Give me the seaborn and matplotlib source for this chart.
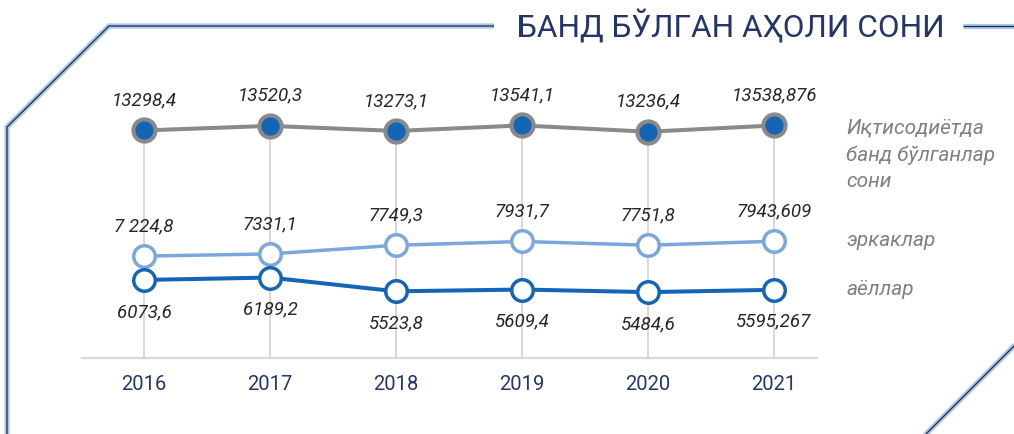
import matplotlib
matplotlib.use("Agg")
import matplotlib.pyplot as plt
from matplotlib.lines import Line2D
import seaborn as sns
import pandas as pd

# ---- data ----
years = [2016, 2017, 2018, 2019, 2020, 2021]
employed = [13298.4, 13520.3, 13273.1, 13541.1, 13236.4, 13538.876]
men = [7224.8, 7331.1, 7749.3, 7931.7, 7751.8, 7943.609]
women = [6073.6, 6189.2, 5523.8, 5609.4, 5484.6, 5595.267]
employed_labels = ["13298,4", "13520,3", "13273,1", "13541,1", "13236,4", "13538,876"]
men_labels = ["7 224,8", "7331,1", "7749,3", "7931,7", "7751,8", "7943,609"]
women_labels = ["6073,6", "6189,2", "5523,8", "5609,4", "5484,6", "5595,267"]
series_names = ["Иқтисодиётда\nбанд бўлганлар\nсони", "эркаклар", "аёллар"]
title = "БАНД БЎЛГАН АҲОЛИ СОНИ"

sns.set_theme(style="white")
plt.rcParams["font.family"] = ["Roboto", "DejaVu Sans"]

W, H = 1014, 435
fig = plt.figure(figsize=(W / 100, H / 100), dpi=100)

def fx(px):
    return px / W

def fy(py):
    return (H - py) / H

ax_left, ax_right, ax_top, ax_bottom = 82, 817, 60, 359.3
ax = fig.add_axes([fx(ax_left), fy(ax_bottom), fx(ax_right - ax_left), (ax_bottom - ax_top) / H])

GRAY = "#8a8a8a"
DARK = "#1565b7"
LIGHT = "#7ba7db"
GRID = "#d3d0cc"

df = pd.DataFrame({"year": years, "employed": employed, "men": men, "women": women})

# drop lines from top series to baseline
ymin, ymax = 2286, 16752
ax.vlines(df["year"], ymin, df["employed"], color=GRID, lw=1.2, zorder=1)

sns.lineplot(data=df, x="year", y="employed", ax=ax, color=GRAY, lw=2.9,
             marker="o", markersize=16, markerfacecolor=DARK,
             markeredgecolor=GRAY, markeredgewidth=2.9, zorder=3)
sns.lineplot(data=df, x="year", y="men", ax=ax, color=LIGHT, lw=2.5,
             marker="o", markersize=15.5, markerfacecolor="white",
             markeredgecolor=LIGHT, markeredgewidth=2.5, zorder=3)
sns.lineplot(data=df, x="year", y="women", ax=ax, color=DARK, lw=2.9,
             marker="o", markersize=15.5, markerfacecolor="white",
             markeredgecolor=DARK, markeredgewidth=2.5, zorder=3)

ax.set_xlim(2015.508, 2021.341)
ax.set_ylim(ymin, ymax)

lab_kw = dict(textcoords="offset pixels", ha="center", va="center",
              fontsize=13.5, style="italic", color="#262626")
for x, v, t in zip(years, employed, employed_labels):
    ax.annotate(t, (x, v), xytext=(0, 31), **lab_kw)
for x, v, t in zip(years, men, men_labels):
    ax.annotate(t, (x, v), xytext=(0, 31), **lab_kw)
for x, v, t in zip(years, women, women_labels):
    ax.annotate(t, (x, v), xytext=(0, -31), **lab_kw)

# series names on the right
name_kw = dict(textcoords="offset pixels", ha="left", fontsize=15,
               style="italic", color="#808080")
ax.annotate(series_names[0], (years[-1], employed[-1]), xytext=(72, 8), va="top",
            linespacing=1.5, **name_kw)
ax.annotate(series_names[1], (years[-1], men[-1]), xytext=(72, 2), va="center", **name_kw)
ax.annotate(series_names[2], (years[-1], women[-1]), xytext=(72, 1), va="center", **name_kw)

ax.set_xticks(years)
ax.set_xticklabels([str(y) for y in years], fontsize=14.5, color="#25366b")
ax.set_yticks([])
ax.set_xlabel("")
ax.set_ylabel("")
ax.tick_params(axis="x", length=0, pad=11)
for s in ["left", "right", "top"]:
    ax.spines[s].set_visible(False)
ax.spines["bottom"].set_color("#d9d9d9")
ax.spines["bottom"].set_linewidth(1.6)
ax.patch.set_alpha(0)

# title
fig.text(fx(516.7), fy(37.7), title, ha="left", va="baseline",
         fontsize=22.7, color="#24356b")

# decorative frame lines
def frame(xs, ys):
    fxs = [fx(p) for p in xs]
    fys = [fy(p) for p in ys]
    fig.add_artist(Line2D(fxs, fys, transform=fig.transFigure, color="#a9c7ea",
                          lw=3.8, solid_capstyle="butt", solid_joinstyle="miter"))
    fig.add_artist(Line2D(fxs, fys, transform=fig.transFigure, color="#1f2a44",
                          lw=0.9, solid_capstyle="butt", solid_joinstyle="miter"))

frame([7, 7, 109, 494], [436, 128, 27, 27])
frame([963, 1015], [27, 27])
frame([925, 1015], [436, 346])

fig.savefig("out.png", dpi=100)
